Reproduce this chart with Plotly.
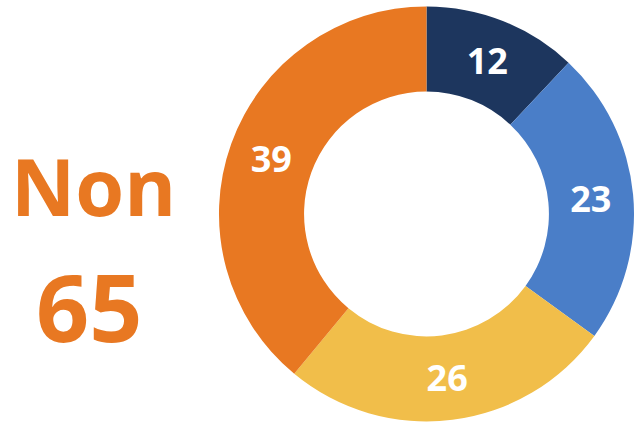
import plotly.graph_objects as go

labels = ["A", "B", "C", "D"]
values = [12, 23, 26, 39]
colors = ["#1D365E", "#4A7EC8", "#F1BE4A", "#E87822"]
side_label = "Non"
side_value = "65"

W, H = 634, 423

fig = go.Figure(go.Pie(
    labels=labels,
    values=values,
    sort=False,
    direction="clockwise",
    rotation=0,
    hole=0.59,
    marker=dict(colors=colors, line=dict(width=0)),
    textinfo="value",
    textposition="inside",
    insidetextorientation="horizontal",
    textfont=dict(family="Open Sans", size=36, color="white", weight="bold"),
    domain=dict(x=[0.3454, 1.0], y=[0.0024, 0.986]),
    showlegend=False,
))

fig.add_annotation(text=side_label, x=93, y=H - 185, xref="x", yref="y",
                   showarrow=False, xanchor="center", yanchor="middle",
                   font=dict(family="Open Sans", size=79, color="#E87822", weight="bold"))
fig.add_annotation(text=side_value, x=89, y=H - 306, xref="x", yref="y",
                   showarrow=False, xanchor="center", yanchor="middle",
                   font=dict(family="Open Sans", size=93, color="#E87822", weight="bold"))

fig.update_layout(
    width=W, height=H,
    margin=dict(l=0, r=0, t=0, b=0),
    paper_bgcolor="white", plot_bgcolor="white",
    xaxis=dict(range=[0, W], visible=False, fixedrange=True),
    yaxis=dict(range=[0, H], visible=False, fixedrange=True),
)

fig.write_html(
    "out.html",
    config={"displayModeBar": False},
    post_script="document.body.style.margin='0';document.body.style.overflow='hidden';",
)
